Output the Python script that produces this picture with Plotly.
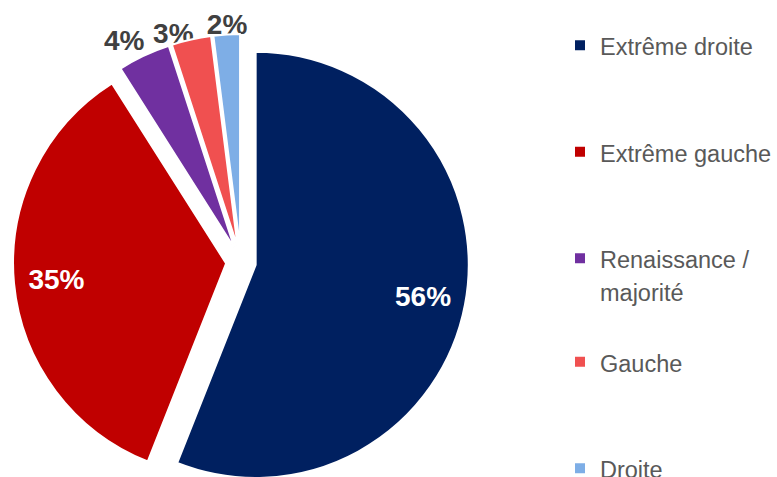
import plotly.graph_objects as go

# ---- data ----
labels = ["Extrême droite", "Extrême gauche", "Renaissance / majorité", "Gauche", "Droite"]
legend_lines = [["Extrême droite"], ["Extrême gauche"], ["Renaissance /", "majorité"], ["Gauche"], ["Droite"]]
values = [56, 35, 4, 3, 2]

# ---- style ----
colors = ["#002060", "#C00000", "#7030A0", "#F05050", "#7EAEE6"]
inside = [True, True, False, False, False]            # where the percentage sits
# anchor radius (pie-radius units) and text placement for outside labels
outside_anchor = [None, None, 1.065, 1.02, 1.04]
outside_textpos = [None, None, "top left", "top left", "top center"]
PULL = 0.07
W, H = 777, 524
DOMAIN_X = [13 / W, 469 / W]
FONT = "Arial, Liberation Sans, sans-serif"

total = sum(values)
pct_text = [f"{round(100 * v / total)}%" for v in values]
mid_angles = []
acc = 0
for v in values:
    mid_angles.append(360 * (acc + v / 2) / total)
    acc += v

# legend entries (with invisible spacer entries to reproduce the wide spacing)
leg_labels, leg_values, leg_colors, leg_lc, leg_lw = [], [], [], [], []
spacer = 0
for i, (lines, v, c) in enumerate(zip(legend_lines, values, colors)):
    leg_labels.append("<br>".join(f"<span style='font-size:23.5px'>{ln}</span>" for ln in lines))
    leg_values.append(v)
    leg_colors.append(c)
    leg_lc.append("#FFFFFF")
    leg_lw.append(2)
    if i < len(values) - 1:
        for _ in range(2 if len(lines) == 1 else 1):
            spacer += 1
            leg_labels.append("\u00a0" * spacer)
            leg_values.append(0)
            leg_colors.append("rgba(0,0,0,0)")
            leg_lc.append("rgba(0,0,0,0)")
            leg_lw.append(0)

fig = go.Figure()

# the pie itself (also feeds the legend)
fig.add_trace(go.Pie(
    labels=leg_labels, values=leg_values, sort=False, direction="clockwise", rotation=0,
    pull=PULL, marker=dict(colors=leg_colors, line=dict(color=leg_lc, width=leg_lw)),
    textinfo="none", hoverinfo="skip", domain=dict(x=DOMAIN_X, y=[0, 1]),
    showlegend=True, automargin=False,
))

# inside percentages (transparent ring so the text sits near the rim)
fig.add_trace(go.Pie(
    labels=labels, values=values, sort=False, direction="clockwise", rotation=0,
    pull=PULL, hole=0.6,
    marker=dict(colors=["rgba(0,0,0,0)"] * len(values), line=dict(width=0)),
    text=pct_text, textinfo="text",
    textposition=["inside" if f else "none" for f in inside],
    insidetextorientation="horizontal",
    textfont=dict(family=FONT, size=28, color="#FFFFFF", weight="bold"),
    hoverinfo="label+percent", domain=dict(x=DOMAIN_X, y=[0, 1]),
    showlegend=False, automargin=False,
))

# outside percentages on an invisible polar subplot aligned with the pie
out_idx = [i for i, f in enumerate(inside) if not f]
fig.add_trace(go.Scatterpolar(
    theta=[mid_angles[i] for i in out_idx],
    r=[outside_anchor[i] for i in out_idx],
    text=[pct_text[i] for i in out_idx],
    mode="text",
    textposition=[outside_textpos[i] for i in out_idx],
    textfont=dict(family=FONT, size=28, color="#404040", weight="bold"),
    cliponaxis=False, showlegend=False, hoverinfo="skip",
))

fig.update_layout(
    width=W, height=H,
    margin=dict(l=0, r=0, t=0, b=0),
    paper_bgcolor="white", plot_bgcolor="white",
    font=dict(family=FONT, color="#595959"),
    polar=dict(
        domain=dict(x=DOMAIN_X, y=[0, 1]),
        bgcolor="rgba(0,0,0,0)",
        radialaxis=dict(visible=False, range=[0, 1 + PULL]),
        angularaxis=dict(visible=False, rotation=90, direction="clockwise"),
    ),
    legend=dict(
        x=560 / W, y=1 - 22.5 / H, xanchor="left", yanchor="top", valign="top",
        font=dict(family=FONT, size=25, color="#595959"),
        bgcolor="rgba(0,0,0,0)", borderwidth=0,
    ),
)

fig.write_html(
    "out.html",
    config={"displayModeBar": False},
    post_script="document.body.style.margin='0';document.body.style.overflow='hidden';document.documentElement.style.overflow='hidden';",
)
